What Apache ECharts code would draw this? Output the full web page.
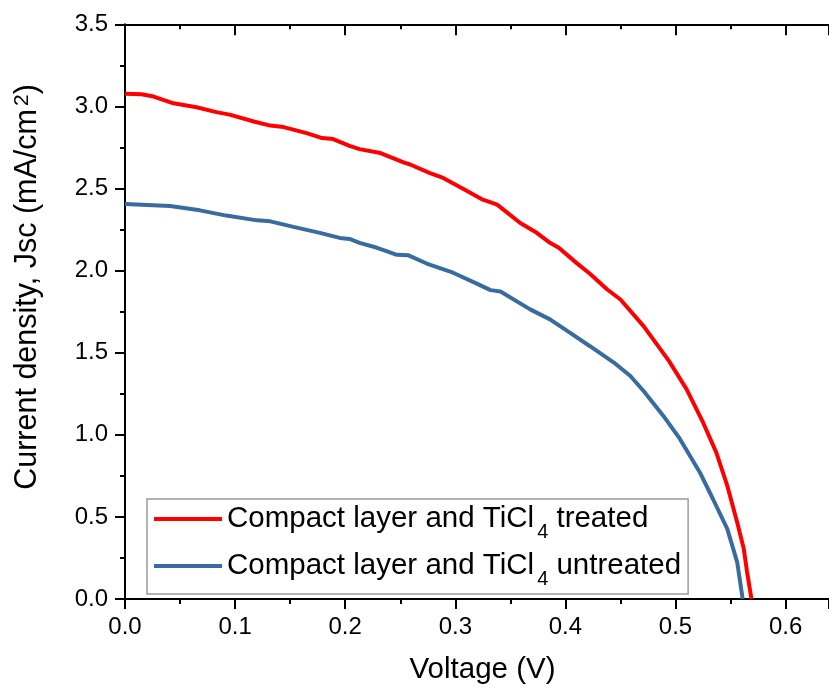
<!DOCTYPE html>
<html>
<head>
<meta charset="utf-8">
<script src="https://cdn.jsdelivr.net/npm/echarts@6/dist/echarts.min.js"></script>
<style>
html,body{margin:0;padding:0;background:#fff;}
#chart{width:829px;height:690px;}
</style>
</head>
<body>
<div id="chart"></div>
<script>
// ---- data ----
var seriesNames = ['Compact layer and TiCl4 treated', 'Compact layer and TiCl4 untreated'];

var voltageTreated = [0.000, 0.015, 0.026, 0.044, 0.065, 0.083, 0.095, 0.117, 0.132, 0.144, 0.165, 0.179, 0.189, 0.204, 0.213, 0.232, 0.253, 0.259, 0.277, 0.289, 0.307, 0.325, 0.338, 0.359, 0.374, 0.386, 0.394, 0.410, 0.422, 0.438, 0.450, 0.471, 0.494, 0.510, 0.525, 0.537, 0.547, 0.556, 0.562, 0.565, 0.569];
var jscTreated     = [3.077, 3.074, 3.060, 3.019, 2.995, 2.965, 2.950, 2.908, 2.883, 2.874, 2.837, 2.807, 2.801, 2.760, 2.740, 2.716, 2.659, 2.646, 2.594, 2.564, 2.499, 2.432, 2.402, 2.290, 2.230, 2.169, 2.139, 2.047, 1.982, 1.885, 1.824, 1.662, 1.450, 1.278, 1.075, 0.893, 0.690, 0.468, 0.306, 0.164, 0.000];

var voltageUntreated = [0.000, 0.041, 0.068, 0.092, 0.120, 0.132, 0.153, 0.177, 0.195, 0.204, 0.213, 0.229, 0.247, 0.257, 0.274, 0.298, 0.319, 0.332, 0.341, 0.368, 0.386, 0.404, 0.422, 0.444, 0.459, 0.471, 0.489, 0.504, 0.522, 0.534, 0.547, 0.556, 0.561];
var jscUntreated     = [2.406, 2.394, 2.367, 2.335, 2.306, 2.300, 2.266, 2.230, 2.199, 2.193, 2.169, 2.139, 2.096, 2.094, 2.043, 1.987, 1.922, 1.881, 1.873, 1.764, 1.703, 1.622, 1.541, 1.440, 1.358, 1.267, 1.115, 0.975, 0.772, 0.609, 0.427, 0.225, 0.000];

var xTitle = 'Voltage (V)';
var yTitle = 'Current density, Jsc (mA/cm{sup|2})';

function pairs(xs, ys) { return xs.map(function (x, i) { return [x, ys[i]]; }); }

var FONT = '"Liberation Sans", Arial, sans-serif';
var chart = echarts.init(document.getElementById('chart'), null, {renderer: 'canvas'});

var axisLine = {show: true, onZero: false, lineStyle: {color: '#000', width: 2}};
var X_MAX = 0.6394;

chart.setOption({
  animation: false,
  backgroundColor: '#fff',
  grid: {left: 125, top: 24.3, right: 0, height: 576, containLabel: false},
  xAxis: [{
    type: 'value', position: 'bottom', min: 0, max: X_MAX, interval: 0.1,
    axisLine: axisLine,
    axisTick: {show: true, inside: false, length: 10, lineStyle: {color: '#000', width: 2}},
    minorTick: {show: true, splitNumber: 2, length: 5, lineStyle: {color: '#000', width: 2}},
    splitLine: {show: false},
    axisLabel: {show: true, margin: 16, color: '#000', fontSize: 24, fontFamily: FONT, showMaxLabel: false,
      formatter: function (v) { return v.toFixed(1); }},
    name: xTitle, nameLocation: 'middle', nameGap: 56,
    nameTextStyle: {color: '#000', fontSize: 29.5, fontFamily: FONT, padding: [0, 0, 0, 11]}
  }, {
    type: 'value', position: 'top', min: 0, max: X_MAX, interval: 0.1,
    axisLine: axisLine,
    axisTick: {show: true, inside: true, length: 11, lineStyle: {color: '#000', width: 2}},
    minorTick: {show: true, splitNumber: 2, length: 5, lineStyle: {color: '#000', width: 2}},
    splitLine: {show: false},
    axisLabel: {show: false}
  }],
  yAxis: [{
    type: 'value', position: 'left', min: 0, max: 3.5, interval: 0.5,
    axisLine: axisLine,
    axisTick: {show: true, inside: false, length: 10, lineStyle: {color: '#000', width: 2}},
    minorTick: {show: true, splitNumber: 2, length: 5, lineStyle: {color: '#000', width: 2}},
    splitLine: {show: false},
    axisLabel: {show: true, margin: 17, color: '#000', fontSize: 24, fontFamily: FONT,
      formatter: function (v) { return v.toFixed(1); }}
  }],
  legend: {
    show: true, orient: 'vertical', left: 147, top: 499,
    padding: [0, 7, 5, 5], itemGap: 4, itemWidth: 68, itemHeight: 14,
    borderColor: '#9a9a9a', borderWidth: 1.5, backgroundColor: '#fff',
    data: seriesNames,
    itemStyle: {opacity: 0, borderWidth: 0},
    lineStyle: {width: 4},
    formatter: function (name) { return name.replace('TiCl4', 'TiCl{sub|4}'); },
    textStyle: {color: '#000', fontSize: 29.5, fontFamily: FONT, lineHeight: 40,
      rich: {sub: {fontSize: 20, fontFamily: FONT, color: '#000', padding: [26, 0, 0, 3]}}}
  },
  graphic: [{
    type: 'text',
    x: 28, y: 287, rotation: Math.PI / 2,
    style: {text: yTitle, fill: '#000', fontSize: 30.5, fontFamily: FONT,
      align: 'center', verticalAlign: 'middle',
      rich: {sup: {fontSize: 21, fontFamily: FONT, fill: '#000', padding: [0, 0, 12, 3]}}}
  }],
  series: [{
    name: seriesNames[0], type: 'line', xAxisIndex: 0, yAxisIndex: 0,
    data: pairs(voltageTreated, jscTreated),
    symbol: 'none', showSymbol: false, smooth: false,
    lineStyle: {color: '#ff0000', width: 4}, itemStyle: {color: '#ff0000'}
  }, {
    name: seriesNames[1], type: 'line', xAxisIndex: 0, yAxisIndex: 0,
    data: pairs(voltageUntreated, jscUntreated),
    symbol: 'none', showSymbol: false, smooth: false,
    lineStyle: {color: '#386ca1', width: 4}, itemStyle: {color: '#386ca1'}
  }]
});
</script>
</body>
</html>
